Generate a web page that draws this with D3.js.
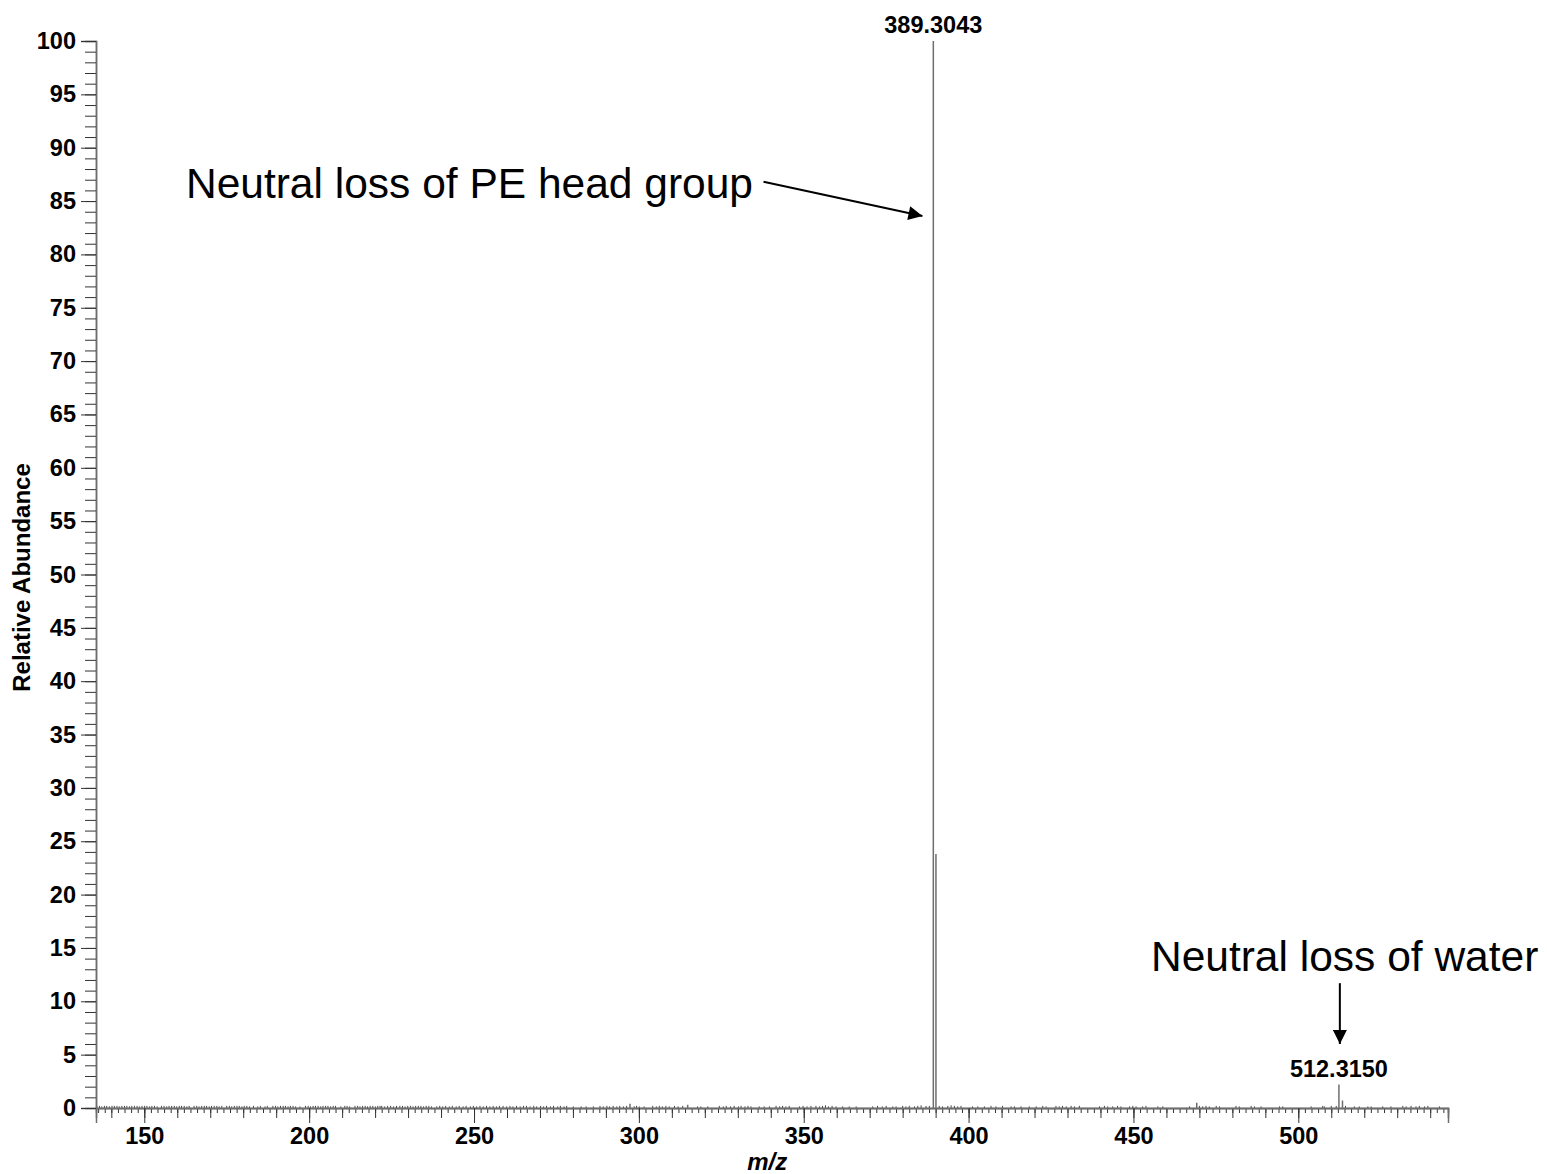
<!DOCTYPE html>
<html>
<head>
<meta charset="utf-8">
<script src="https://cdn.jsdelivr.net/npm/d3@7"></script>
<style>
  html, body { margin: 0; padding: 0; background: #fff; }
  svg text { font-family: Arial, 'Liberation Sans', sans-serif; }
</style>
</head>
<body>
<div class="chart"></div>
<script>
// main peaks [m/z, relative abundance]
const mainPeaks = [
  [389.3043, 100],
  [390.1, 23.8],
  [512.3150, 2.2],
  [513.4, 0.7],
  [469.2, 0.5],
  [297.3, 0.4],
  [314.8, 0.3],
];
// labelled peaks
const peakLabels = [
  { mz: 389.3043, value: 100, text: '389.3043' },
  { mz: 512.3150, value: 2.2, text: '512.3150' },
];
// baseline noise [m/z, relative abundance]
const noisePeaks = [
  [135.6, 0.2], [136.4, 0.2], [137.1, 0.15], [137.9, 0.2], [138.6, 0.2], [139.4, 0.15], [140.2, 0.2],
  [140.9, 0.2], [141.7, 0.2], [142.4, 0.15], [143.2, 0.2], [144.0, 0.2], [144.7, 0.2], [145.5, 0.15],
  [146.2, 0.2], [147.0, 0.2], [147.8, 0.2], [148.5, 0.15], [149.3, 0.2], [150.1, 0.2], [150.8, 0.2],
  [151.6, 0.15], [152.3, 0.2], [153.1, 0.2], [153.9, 0.15],
  [155.2, 0.2], [156.0, 0.2], [156.8, 0.15], [157.5, 0.2], [158.3, 0.2], [159.1, 0.2], [159.8, 0.15],
  [160.6, 0.2], [161.3, 0.2], [162.1, 0.2], [162.9, 0.15], [163.6, 0.2],
  [165.1, 0.2], [165.9, 0.2], [166.6, 0.15], [167.4, 0.2], [168.2, 0.2], [168.9, 0.2], [169.7, 0.15],
  [170.4, 0.2], [171.2, 0.2], [172.0, 0.2], [172.7, 0.15], [173.5, 0.2],
  [175.0, 0.2], [175.8, 0.2], [176.5, 0.15], [177.3, 0.2], [178.1, 0.2], [178.8, 0.2], [179.6, 0.15],
  [180.3, 0.2], [181.1, 0.2], [181.9, 0.15],
  [183.1, 0.2], [184.4, 0.15], [185.2, 0.2], [186.6, 0.15], [187.3, 0.2],
  [189.0, 0.2], [189.8, 0.2], [190.5, 0.15], [191.3, 0.2], [192.1, 0.2], [192.8, 0.2], [193.6, 0.15],
  [194.3, 0.2], [195.1, 0.2], [195.9, 0.15], [197.2, 0.15],
  [198.9, 0.2], [199.7, 0.2], [200.4, 0.15], [201.2, 0.2], [201.9, 0.2], [202.7, 0.2], [203.5, 0.15],
  [204.2, 0.2], [205.0, 0.2], [205.7, 0.2], [206.5, 0.15], [207.3, 0.2], [208.0, 0.2], [209.6, 0.15],
  [210.8, 0.2], [211.5, 0.2], [212.3, 0.15], [213.9, 0.2], [214.7, 0.2], [215.4, 0.15], [216.2, 0.2],
  [217.0, 0.2], [217.7, 0.15], [218.5, 0.2], [219.3, 0.2], [220.1, 0.15], [220.8, 0.2], [221.5, 0.2],
  [222.0, 0.2], [222.9, 0.15], [223.8, 0.2], [224.7, 0.2], [225.6, 0.15], [226.5, 0.2],
  [227.5, 0.2], [228.3, 0.2], [229.1, 0.15], [229.9, 0.2], [230.7, 0.2], [231.5, 0.15], [232.3, 0.2],
  [233.1, 0.2], [233.9, 0.2], [234.7, 0.15], [235.5, 0.2], [236.3, 0.2], [237.1, 0.15],
  [238.7, 0.15], [239.6, 0.2], [240.5, 0.15], [241.4, 0.2], [242.5, 0.15], [243.4, 0.2], [244.6, 0.15],
  [245.5, 0.2], [246.7, 0.15], [247.6, 0.2], [248.9, 0.15], [249.8, 0.2], [250.8, 0.15],
  [251.8, 0.2], [252.8, 0.15], [253.8, 0.2], [254.8, 0.15],
  [255.8, 0.2], [256.8, 0.15], [257.7, 0.2], [258.8, 0.2], [259.9, 0.15], [260.9, 0.2], [261.8, 0.15],
  [262.9, 0.2], [264.0, 0.15], [265.0, 0.2], [265.9, 0.2], [267.0, 0.15], [268.1, 0.2], [269.0, 0.15],
  [270.2, 0.2], [271.1, 0.15], [272.0, 0.2], [273.2, 0.15], [274.1, 0.2], [275.4, 0.15], [276.2, 0.2],
  [277.3, 0.15], [278.1, 0.2],
  [280.1, 0.15], [282.5, 0.15], [284.0, 0.15], [286.2, 0.15],
  [288.2, 0.2], [289.2, 0.15], [290.3, 0.2], [291.1, 0.15], [292.2, 0.2], [293.3, 0.15], [294.2, 0.2],
  [295.3, 0.15], [296.3, 0.2], [298.6, 0.15], [299.3, 0.2],
  [300.1, 0.15], [301.6, 0.15], [304.2, 0.2], [305.3, 0.15], [306.2, 0.2], [307.1, 0.15], [308.2, 0.2],
  [309.2, 0.15], [310.8, 0.2], [311.9, 0.15], [313.3, 0.2],
  [317.8, 0.15], [318.8, 0.15], [320.9, 0.15],
  [324.4, 0.2], [325.6, 0.15], [326.5, 0.2], [327.8, 0.15], [328.9, 0.2], [330.2, 0.15], [331.0, 0.2],
  [332.2, 0.15], [333.1, 0.2], [334.0, 0.15],
  [336.5, 0.15], [338.0, 0.15], [339.6, 0.15],
  [341.6, 0.2], [342.7, 0.15], [343.6, 0.2], [344.6, 0.15], [345.6, 0.2],
  [348.7, 0.15], [349.8, 0.2], [351.0, 0.15], [352.2, 0.2],
  [353.7, 0.2], [354.8, 0.15], [355.7, 0.2], [356.6, 0.25], [357.5, 0.15], [358.6, 0.2], [359.8, 0.15],
  [361.8, 0.15], [363.8, 0.15], [365.9, 0.15],
  [370.9, 0.15], [372.4, 0.2], [373.8, 0.15], [375.0, 0.2], [377.0, 0.15], [378.0, 0.15], [380.0, 0.2],
  [381.0, 0.15], [382.0, 0.2], [383.6, 0.15], [384.6, 0.2], [385.6, 0.25], [387.1, 0.2], [388.1, 0.2],
  [391.1, 0.2], [392.1, 0.15], [393.7, 0.2], [394.7, 0.25], [395.7, 0.2], [396.7, 0.15], [397.7, 0.2],
  [401.2, 0.15], [402.8, 0.15], [404.8, 0.15], [406.8, 0.2], [408.3, 0.15], [410.3, 0.2],
  [412.9, 0.15], [413.9, 0.15], [415.9, 0.15], [418.4, 0.15], [420.5, 0.15], [422.5, 0.2], [423.5, 0.15],
  [426.5, 0.2], [427.5, 0.15], [428.5, 0.2], [429.6, 0.15], [431.1, 0.2], [432.1, 0.15], [433.6, 0.2],
  [439.7, 0.15], [441.2, 0.2], [442.2, 0.15], [443.7, 0.15], [445.2, 0.2], [446.2, 0.15], [448.8, 0.15],
  [449.8, 0.2], [450.8, 0.15], [452.8, 0.15], [453.8, 0.2], [457.4, 0.15], [458.9, 0.15],
  [467.0, 0.15], [470.0, 0.2], [471.0, 0.15], [472.0, 0.2], [473.0, 0.15], [475.1, 0.2], [476.1, 0.15],
  [481.1, 0.2], [482.1, 0.15], [485.7, 0.2], [486.7, 0.15], [488.7, 0.15], [494.3, 0.15], [495.3, 0.15],
  [503.9, 0.15], [507.4, 0.2], [507.9, 0.15], [510.0, 0.2], [511.5, 0.2], [514.3, 0.2],
  [517.0, 0.15], [518.5, 0.15], [521.1, 0.15], [522.1, 0.15], [525.6, 0.15], [528.1, 0.15],
  [531.7, 0.2], [532.7, 0.15], [534.2, 0.2], [535.7, 0.15], [536.7, 0.2], [538.3, 0.15], [539.3, 0.2],
  [542.8, 0.15],
];
// annotations (positions in data units)
const annotations = [
  { text: 'Neutral loss of PE head group', x: 334.6, y: 85.3, from: [337.8, 86.8], to: [386.0, 83.6] },
  { text: 'Neutral loss of water', x: 572.8, y: 12.8, from: [512.6, 11.7], to: [512.6, 6.0] },
];
const xDomain = [135.35, 545.4];
const yDomain = [0, 100];
const xLabelTicks = [150, 200, 250, 300, 350, 400, 450, 500];
const yLabelTicks = [0, 5, 10, 15, 20, 25, 30, 35, 40, 45, 50, 55, 60, 65, 70, 75, 80, 85, 90, 95, 100];

const width = 1547;
const height = 1174;
const margin = { top: 41, right: 99, bottom: 66, left: 96 };

const svg = d3.select('.chart')
  .append('svg')
  .attr('width', width)
  .attr('height', height);

const x = d3.scaleLinear()
  .domain(xDomain)
  .range([margin.left, width - margin.right]);
const y = d3.scaleLinear()
  .domain(yDomain)
  .range([height - margin.bottom, margin.top]);

const axisColor = '#6e6e6e';
const tickColor = '#333';
const peakColor = '#6e6e6e';

// noise + peaks
svg.append('g')
  .selectAll('line')
  .data(noisePeaks)
  .enter()
  .append('line')
  .attr('x1', (d) => x(d[0]))
  .attr('x2', (d) => x(d[0]))
  .attr('y1', y(0))
  .attr('y2', (d) => y(d[1]))
  .attr('stroke', '#444')
  .attr('stroke-width', 1);

svg.append('g')
  .selectAll('line')
  .data(mainPeaks)
  .enter()
  .append('line')
  .attr('x1', (d) => x(d[0]))
  .attr('x2', (d) => x(d[0]))
  .attr('y1', y(0))
  .attr('y2', (d) => y(d[1]))
  .attr('stroke', peakColor)
  .attr('stroke-width', 1.5);

// X axis: minor ticks every 2, medium every 10, major every 50
const xAxisG = svg.append('g').attr('transform', `translate(0,${y(0)})`);
const minorX = d3.range(136, 546, 2);
xAxisG.call(d3.axisBottom(x).tickValues(minorX).tickSize(5).tickFormat(''));
xAxisG.append('g').call(d3.axisBottom(x).tickValues(d3.range(140, 546, 10)).tickSize(10).tickFormat(''));
xAxisG.append('g').call(d3.axisBottom(x).tickValues(xLabelTicks).tickSize(15).tickPadding(4).tickFormat(d3.format('d')));
xAxisG.selectAll('.domain').attr('stroke', axisColor).attr('stroke-width', 1.5);
xAxisG.selectAll('.tick line').attr('stroke', tickColor);
xAxisG.selectAll('.tick text')
  .attr('fill', '#000')
  .style('font-size', '23.5px')
  .style('font-weight', 'bold');

// Y axis: minor every 1, major every 5
const yAxisG = svg.append('g').attr('transform', `translate(${x(xDomain[0])},0)`);
yAxisG.call(d3.axisLeft(y).tickValues(d3.range(0, 101, 1)).tickSize(11).tickFormat(''));
yAxisG.append('g').call(d3.axisLeft(y).tickValues(yLabelTicks).tickSize(15).tickPadding(5).tickFormat(d3.format('d')));
yAxisG.selectAll('.domain').attr('stroke', axisColor).attr('stroke-width', 1.5);
yAxisG.selectAll('.tick line').attr('stroke', tickColor);
yAxisG.selectAll('.tick text')
  .attr('fill', '#000')
  .style('font-size', '23.5px')
  .style('font-weight', 'bold');

// peak labels
svg.selectAll('.peak-label')
  .data(peakLabels)
  .enter()
  .append('text')
  .attr('class', 'peak-label')
  .attr('x', (d) => x(d.mz))
  .attr('y', (d) => y(d.value) - 8)
  .attr('text-anchor', 'middle')
  .style('font-size', '23.5px')
  .style('font-weight', 'bold')
  .text((d) => d.text);

// axis titles
svg.append('text')
  .attr('transform', `translate(30,${(y(0) + y(100)) / 2 + 3}) rotate(-90)`)
  .attr('text-anchor', 'middle')
  .style('font-size', '24px')
  .style('font-weight', 'bold')
  .text('Relative Abundance');

svg.append('text')
  .attr('x', x(338.9))
  .attr('y', 1170)
  .attr('text-anchor', 'middle')
  .style('font-size', '24px')
  .style('font-weight', 'bold')
  .style('font-style', 'italic')
  .text('m/z');

// arrows
svg.append('defs')
  .append('marker')
  .attr('id', 'arrow')
  .attr('viewBox', '0 0 10 10')
  .attr('refX', 10)
  .attr('refY', 5)
  .attr('markerUnits', 'userSpaceOnUse')
  .attr('markerWidth', 18)
  .attr('markerHeight', 14)
  .attr('orient', 'auto')
  .append('path')
  .attr('d', 'M0,0L10,5L0,10z')
  .attr('fill', '#000');

const ann = svg.selectAll('.annotation')
  .data(annotations)
  .enter()
  .append('g')
  .attr('class', 'annotation');
ann.append('text')
  .attr('x', (d) => x(d.x))
  .attr('y', (d) => y(d.y))
  .attr('text-anchor', 'end')
  .style('font-size', '42.5px')
  .text((d) => d.text);
ann.append('line')
  .attr('x1', (d) => x(d.from[0]))
  .attr('y1', (d) => y(d.from[1]))
  .attr('x2', (d) => x(d.to[0]))
  .attr('y2', (d) => y(d.to[1]))
  .attr('stroke', '#000')
  .attr('stroke-width', 2)
  .attr('marker-end', 'url(#arrow)');
</script>
</body>
</html>
